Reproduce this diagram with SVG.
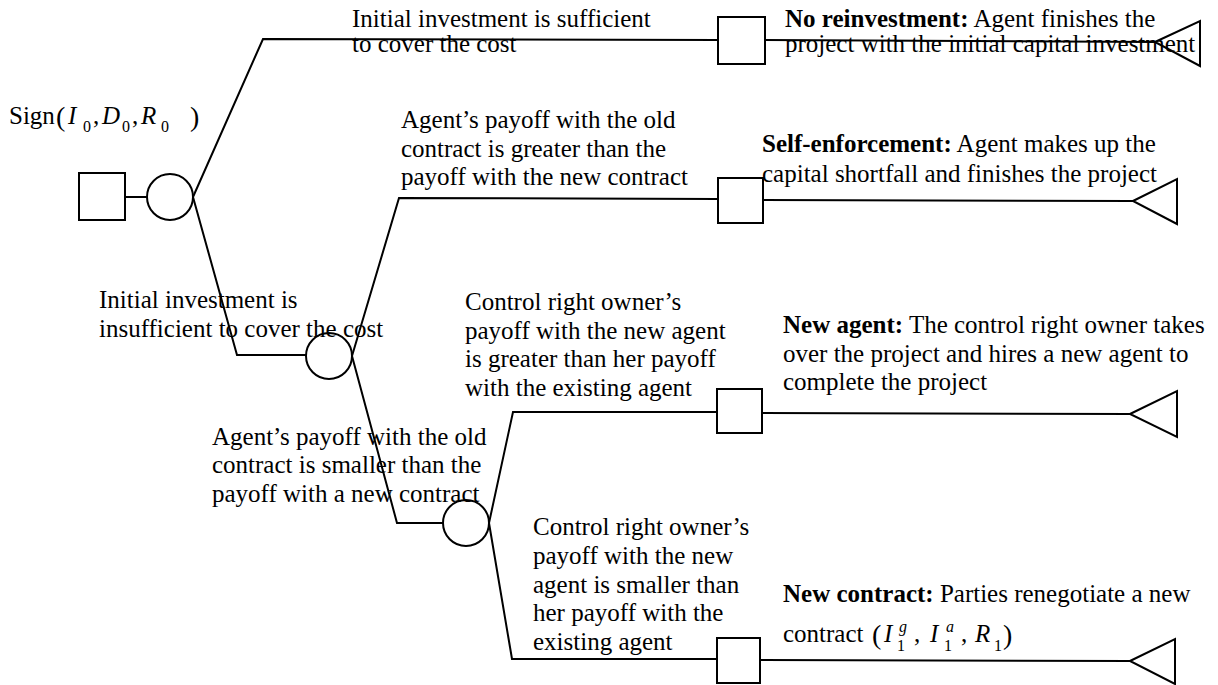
<svg xmlns="http://www.w3.org/2000/svg" width="1218" height="685" viewBox="0 0 1218 685">
<style>
.ln{fill:none;stroke:#000;stroke-width:2}
.nd{fill:none;stroke:#000;stroke-width:2}
.t{font-family:"Liberation Serif","Times New Roman",serif;font-size:25px;fill:#000}
.b{font-weight:bold}
.i{font-style:italic}
.s{font-size:16px}
.p{font-size:28px}
</style>
<rect width="1218" height="685" fill="#fff"/>
<g id="connectors">
<polyline class="ln" points="125,197 147,197"/>
<polyline class="ln" points="193,197 263,39 718,40"/>
<polyline class="ln" points="765,40 1155,42"/>
<polyline class="ln" points="193,197 237,355 306,355"/>
<polyline class="ln" points="352,356 399,198 718,199"/>
<polyline class="ln" points="763,200 1133,201"/>
<polyline class="ln" points="352,356 397,523 443,523"/>
<polyline class="ln" points="489,523 513,412 717,412"/>
<polyline class="ln" points="762,413 1130,414"/>
<polyline class="ln" points="489,523 512,659 717,659"/>
<polyline class="ln" points="760,660 1130,661"/>
</g>
<g id="labels">
<text class="t" x="352" y="27">Initial investment is sufficient</text>
<text class="t" x="352" y="52">to cover the cost</text>
<text class="t" x="401" y="128">Agent’s payoff with the old</text>
<text class="t" x="401" y="157">contract is greater than the</text>
<text class="t" x="401" y="185">payoff with the new contract</text>
<text class="t" x="99" y="308">Initial investment is</text>
<text class="t" x="99" y="337">insufficient to cover the cost</text>
<text class="t" x="465" y="310">Control right owner’s</text>
<text class="t" x="465" y="339">payoff with the new agent</text>
<text class="t" x="465" y="367">is greater than her payoff</text>
<text class="t" x="465" y="396">with the existing agent</text>
<text class="t" x="212" y="445">Agent’s payoff with the old</text>
<text class="t" x="212" y="473">contract is smaller than the</text>
<text class="t" x="212" y="502">payoff with a new contract</text>
<text class="t" x="533" y="535">Control right owner’s</text>
<text class="t" x="533" y="564">payoff with the new</text>
<text class="t" x="533" y="593">agent is smaller than</text>
<text class="t" x="533" y="621">her payoff with the</text>
<text class="t" x="533" y="650">existing agent</text>
</g>
<g id="root">
<rect class="nd" x="79" y="173" width="46" height="47"/>
<text class="t" x="9" y="124" font-size="24">Sign</text>
<text class="t p" x="56" y="126">(</text>
<text class="t i" x="68" y="124">I</text>
<text class="t s" x="83" y="132">0</text>
<text class="t" x="93" y="124">,</text>
<text class="t i" x="102" y="124">D</text>
<text class="t s" x="122" y="132">0</text>
<text class="t" x="132" y="124">,</text>
<text class="t i" x="141" y="124">R</text>
<text class="t s" x="161" y="132">0</text>
<text class="t p" x="190" y="126">)</text>
</g>
<g id="chance1"><circle class="nd" cx="170" cy="197" r="23"/></g>
<g id="chance2"><circle class="nd" cx="329" cy="356" r="23"/></g>
<g id="chance3"><circle class="nd" cx="466" cy="523" r="23"/></g>
<g id="decision1"><rect class="nd" x="718" y="17" width="47" height="47"/></g>
<g id="decision2"><rect class="nd" x="718" y="178" width="45" height="45"/></g>
<g id="decision3"><rect class="nd" x="717" y="389" width="45" height="44"/></g>
<g id="decision4"><rect class="nd" x="717" y="638" width="43" height="45"/></g>
<g id="end1">
<polygon class="nd" points="1155,42 1200,21 1200,66"/>
<text class="t" x="785" y="27"><tspan class="b">No reinvestment:</tspan> Agent finishes the</text>
<text class="t" x="785" y="52">project with the initial capital investment</text>
</g>
<g id="end2">
<polygon class="nd" points="1133,201 1177,179 1177,224"/>
<text class="t" x="762" y="152"><tspan class="b">Self-enforcement:</tspan> Agent makes up the</text>
<text class="t" x="762" y="182">capital shortfall and finishes the project</text>
</g>
<g id="end3">
<polygon class="nd" points="1130,414 1177,391 1177,437"/>
<text class="t" x="783" y="333"><tspan class="b">New agent:</tspan> The control right owner takes</text>
<text class="t" x="783" y="362">over the project and hires a new agent to</text>
<text class="t" x="783" y="390">complete the project</text>
</g>
<g id="end4">
<polygon class="nd" points="1130,661 1175,639 1175,684"/>
<text class="t" x="783" y="602"><tspan class="b">New contract:</tspan> Parties renegotiate a new</text>
<text class="t" x="783" y="642">contract</text>
<text class="t p" x="872" y="644">(</text>
<text class="t i" x="884" y="642">I</text>
<text class="t s i" x="899" y="632">g</text>
<text class="t s" x="897" y="651">1</text>
<text class="t" x="914" y="642">,</text>
<text class="t i" x="930" y="642">I</text>
<text class="t s i" x="946" y="632">a</text>
<text class="t s" x="944" y="651">1</text>
<text class="t" x="961" y="642">,</text>
<text class="t i" x="975" y="642">R</text>
<text class="t s" x="994" y="651">1</text>
<text class="t p" x="1003" y="644">)</text>
</g>
</svg>
